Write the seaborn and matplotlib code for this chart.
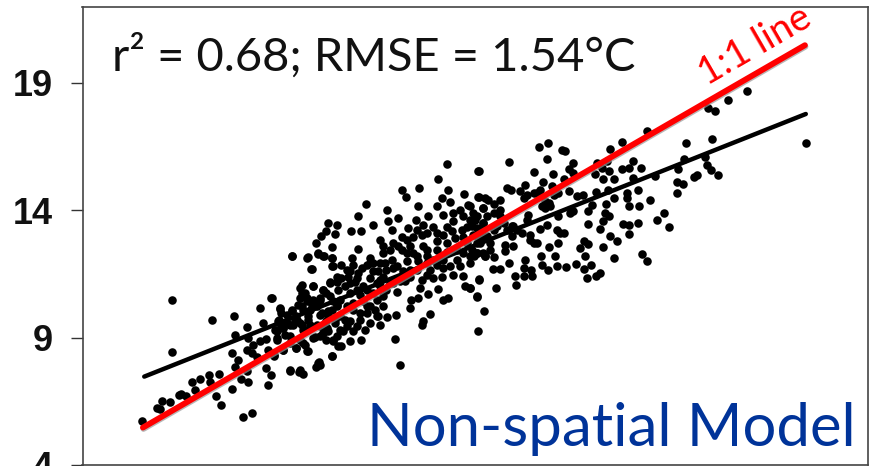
import matplotlib
matplotlib.use("Agg")
import matplotlib.pyplot as plt
import matplotlib.patheffects as pe
import pandas as pd
import seaborn as sns

obs_x = [
    5.46, 6.14, 6.14, 7.04, 7.53, 8.12, 8.38, 8.84, 9.21, 9.43, 9.57, 9.30, 7.82, 8.19, 7.56, 7.50, 7.63, 7.56, 7.82, 7.69,
    7.85, 7.50, 7.13, 7.23, 7.75, 7.95, 8.31, 8.38, 8.25, 7.19, 6.97, 7.00, 6.77, 6.58, 6.64, 6.34, 6.44, 6.28, 6.08, 5.91,
    5.78, 5.85, 7.82, 7.94, 8.05, 7.97, 8.12, 8.25, 7.86, 8.80, 9.01, 9.10, 9.40, 9.46, 9.49, 9.76, 8.31, 8.45, 8.65, 8.94,
    9.21, 9.14, 9.03, 9.37, 9.56, 9.79, 9.90, 8.50, 8.69, 8.50, 8.64, 8.55, 8.58, 8.84, 8.73, 8.88, 9.07, 9.22, 8.96, 9.07,
    9.30, 9.48, 9.67, 9.86, 9.41, 9.64, 9.83, 9.03, 9.33, 9.07, 9.56, 9.71, 9.86, 9.79, 9.75, 9.18, 9.48, 9.71,
    12.36, 13.07, 12.15, 11.34, 11.73, 11.43, 12.39, 12.75, 13.07, 10.52, 10.35, 9.67, 9.86, 10.69, 10.19, 10.41, 9.63, 9.82, 9.50, 9.40,
    9.76, 9.43, 9.56, 8.84, 9.20, 9.29, 9.76, 9.76, 9.97, 10.20, 10.35, 10.24, 10.35, 10.13, 10.28, 10.05, 9.71, 9.90, 9.56, 9.07,
    9.33, 9.14, 9.33, 8.99, 8.40, 8.58, 8.84, 8.61, 8.92, 8.54, 9.22, 9.52, 9.75, 9.26, 8.46, 8.65, 8.50, 8.80, 9.33, 8.65,
    8.95, 9.18, 8.44, 9.56, 9.79, 9.97, 10.16, 10.41, 9.76, 9.45, 8.80, 9.03, 11.18, 11.30, 11.83, 11.79, 11.99, 11.21, 11.00, 10.84,
    10.50, 10.81, 10.62, 10.39, 10.16, 9.94, 10.24, 11.54, 11.71, 11.53, 11.93, 12.28, 12.39, 12.15, 12.77, 12.89, 13.04, 13.21, 13.07, 13.08,
    12.73, 12.51, 12.28, 12.24, 12.05, 11.90, 11.75, 11.79, 11.22, 11.41, 10.92, 11.07, 10.77, 10.62, 10.92, 10.69, 10.92, 10.84, 11.11, 11.22,
    11.45, 10.96, 10.62, 10.81, 11.26, 11.15, 11.34, 11.11, 11.03, 11.01, 11.26, 11.49, 11.60, 11.52, 11.71, 11.66, 11.94, 11.83, 12.05, 11.79,
    11.90, 11.68, 12.13, 12.24, 12.43, 12.28, 12.51, 12.66, 12.85, 12.89, 12.47, 12.70, 12.28, 12.13, 12.36, 12.58, 12.89, 13.19, 13.30, 13.19,
    13.19, 13.04, 13.23, 12.81, 11.90, 12.13, 10.39, 10.24, 10.47, 9.86, 9.94, 8.80, 9.11, 9.67, 9.82, 10.05, 10.54, 10.77, 10.16, 10.09,
    10.43, 9.97, 10.62, 11.68, 11.52, 11.30,
    19.16, 18.73, 18.29, 18.43, 20.50, 18.37, 17.78, 16.89, 16.34, 16.07, 14.66, 14.46, 14.97, 15.04, 14.63, 13.77, 13.08, 14.33, 14.76, 15.22,
    15.12, 15.23, 15.76, 16.00, 15.88, 16.04, 15.71, 15.91, 16.16, 15.02, 14.53, 14.14, 13.72, 13.81, 14.02, 14.10, 14.33, 14.48, 14.74, 14.89,
    15.12, 15.31, 15.44, 15.75, 16.01, 16.34, 16.50, 16.59, 16.76, 16.59, 16.69, 16.44, 16.44, 16.16, 15.97, 15.65, 15.57, 16.50, 16.71, 16.97,
    17.09, 17.61, 17.73, 18.22, 18.26, 18.35, 18.50, 18.03, 17.97, 17.58, 17.71, 17.58, 17.29, 17.12, 17.39, 16.69, 16.50, 16.36, 16.50, 16.22,
    16.06, 15.91, 16.16, 16.79, 16.90, 15.95, 16.03, 15.91, 15.84, 15.57, 15.01, 14.86, 14.89, 14.67, 14.33, 14.25, 14.48, 14.63, 15.57, 15.46,
    15.38, 15.50, 15.63, 15.48, 15.84, 15.75, 15.54, 15.29, 15.07, 14.86, 14.82, 14.66, 14.49, 14.51, 14.14, 13.77, 14.27, 14.10, 13.91, 14.10,
    14.30, 13.94, 13.57, 13.40, 13.48, 13.08, 13.04, 12.89, 13.44, 13.23, 12.97, 13.87, 13.68, 13.67, 13.83, 13.83, 14.06, 13.65, 13.34, 13.12,
    13.42, 14.18, 14.21, 14.59, 14.70, 14.59, 14.89, 15.23, 13.23, 13.08, 13.42, 13.57, 13.57, 13.19, 13.42, 13.04, 13.19, 12.93, 13.12, 12.89,
    12.93,
    # dense core of the cloud
    8.50, 8.73, 9.03, 9.18, 9.48, 9.63, 9.94, 10.24, 10.09, 9.79, 9.48, 9.18, 9.03, 9.63, 9.86, 10.16, 10.32, 10.47, 10.16, 10.32,
    10.54, 10.69, 10.84, 10.99, 11.15, 10.84, 10.99, 10.69, 10.54, 10.84, 11.15, 11.37, 11.52, 11.71, 11.90, 12.05, 11.83, 12.13, 12.36, 12.54,
    12.73, 12.51, 12.96, 12.81, 13.04, 12.96, 12.73, 12.51, 12.36, 12.13, 11.90, 11.68, 11.45, 11.34, 11.07, 10.92, 11.60, 11.45, 12.28, 12.43,
    12.66, 12.89, 13.04, 10.62, 10.32, 10.01, 9.63, 9.48, 9.11, 8.80, 8.58, 10.09, 9.86, 10.73, 10.92, 10.54, 10.77, 10.39, 9.26, 9.41,
    9.11, 8.95, 9.67, 11.98, 12.20, 12.58, 12.73, 13.00, 13.27, 13.04, 13.27, 13.49, 13.72, 13.34, 13.04, 13.19, 13.95, 14.25, 14.40, 14.51,
    14.67, 14.17, 14.40, 14.78, 15.16, 14.93, 13.57, 13.87,
]
obs_y = [
    5.72, 10.49, 8.45, 9.70, 9.86, 10.15, 10.55, 12.20, 12.15, 12.32, 12.19, 11.69, 9.42, 9.59, 9.12, 8.38, 8.11, 7.85, 7.68, 7.38,
    7.26, 6.97, 6.69, 6.35, 5.90, 6.06, 7.14, 7.55, 7.82, 7.59, 7.53, 7.26, 7.38, 7.26, 6.96, 6.80, 6.69, 6.75, 6.46, 6.52,
    6.23, 6.18, 8.53, 8.40, 8.24, 8.72, 8.86, 8.96, 8.99, 7.70, 7.65, 7.59, 7.84, 8.06, 7.91, 8.28, 8.53, 8.27, 8.53, 8.58,
    8.46, 8.72, 8.92, 9.03, 9.18, 8.92, 8.66, 8.99, 9.12, 9.31, 9.38, 9.70, 10.12, 10.10, 9.90, 9.51, 9.51, 9.70, 9.70, 10.23,
    10.29, 9.90, 10.03, 10.29, 9.51, 9.38, 9.57, 10.95, 11.01, 10.75, 10.88, 11.14, 11.40, 11.80, 12.12, 10.55, 10.49, 10.62,
    15.83, 15.55, 15.21, 14.80, 14.87, 14.53, 14.80, 14.63, 14.54, 14.24, 13.78, 13.51, 13.44, 13.44, 13.17, 13.17, 13.17, 13.05, 12.98, 12.70,
    12.54, 12.30, 12.19, 12.19, 12.13, 11.69, 12.12, 11.80, 11.86, 12.12, 12.47, 11.86, 11.53, 11.40, 11.20, 11.01, 11.20, 10.88, 10.88, 11.08,
    11.01, 10.75, 10.49, 10.29, 10.55, 10.16, 10.03, 9.96, 9.64, 9.64, 9.83, 9.96, 10.10, 9.51, 9.31, 9.38, 8.92, 9.05, 8.98, 8.53,
    8.59, 8.46, 8.33, 9.18, 8.85, 8.66, 8.85, 8.90, 8.27, 8.00, 7.74, 7.74, 8.96, 7.93, 9.64, 9.51, 9.93, 9.87, 9.81, 9.51,
    9.31, 9.83, 10.23, 9.96, 9.64, 9.31, 9.25, 10.49, 10.55, 10.16, 10.72, 10.49, 10.55, 10.89, 11.01, 10.95, 10.61, 10.04, 9.25, 11.28,
    11.43, 11.47, 11.73, 11.40, 11.34, 11.47, 10.95, 11.27, 10.81, 11.21, 10.62, 11.14, 11.14, 11.34, 11.40, 11.93, 12.32, 12.84, 12.06, 11.80,
    11.99, 11.93, 12.12, 11.60, 12.58, 12.71, 12.97, 13.23, 13.56, 14.02, 13.69, 13.30, 12.97, 12.58, 14.15, 13.62, 13.76, 13.43, 13.36, 13.04,
    12.45, 12.19, 14.15, 14.47, 14.34, 13.82, 13.56, 14.02, 14.21, 13.62, 13.17, 13.23, 13.04, 12.45, 12.38, 12.06, 12.19, 14.08, 14.41, 13.50,
    12.97, 12.71, 12.19, 12.71, 11.93, 11.86, 10.68, 10.36, 10.42, 10.23, 10.49, 9.51, 9.31, 9.25, 9.70, 9.70, 9.96, 10.49, 11.14, 11.66,
    11.73, 11.34, 11.93, 11.66, 11.40, 11.21,
    18.69, 18.34, 18.01, 17.88, 16.64, 16.81, 16.64, 17.12, 16.70, 16.41, 16.64, 16.47, 16.36, 16.34, 16.01, 15.89, 15.55, 15.50, 15.43, 15.85,
    15.62, 15.46, 15.85, 15.92, 15.66, 15.56, 15.43, 15.22, 15.22, 15.22, 15.11, 14.99, 14.87, 14.81, 14.74, 14.48, 14.68, 14.78, 14.94, 14.68,
    14.74, 14.58, 14.61, 14.70, 14.81, 15.62, 15.66, 15.92, 15.67, 15.26, 14.81, 14.68, 14.48, 14.48, 14.26, 14.22, 13.96, 14.18, 14.18, 14.41,
    15.33, 15.62, 16.01, 16.11, 15.79, 15.59, 15.38, 15.37, 15.29, 15.11, 15.04, 14.68, 13.90, 13.62, 13.34, 13.50, 13.41, 13.46, 13.05, 12.78,
    12.98, 12.55, 12.14, 12.27, 12.02, 13.89, 13.76, 13.56, 13.28, 13.45, 13.11, 13.24, 12.71, 12.54, 12.71, 13.04, 13.28, 13.43, 12.68, 12.81,
    12.52, 12.19, 11.87, 11.70, 11.54, 11.41, 11.36, 11.89, 11.77, 11.80, 12.19, 11.64, 12.19, 11.87, 12.04, 11.92, 11.64, 11.73, 11.41, 11.41,
    11.41, 11.05, 11.69, 11.69, 10.95, 11.29, 10.62, 10.95, 12.17, 12.19, 12.19, 12.61, 12.65, 12.39, 12.98, 13.37, 13.11, 13.50, 12.72, 12.72,
    13.24, 13.63, 13.83, 14.09, 14.15, 14.35, 13.76, 13.96, 14.48, 14.54, 14.26, 14.41, 14.02, 14.09, 13.89, 13.76, 13.50, 13.37, 13.24, 14.15,
    12.45,
    # dense core of the cloud
    9.25, 9.57, 9.57, 9.31, 9.44, 9.64, 9.83, 10.10, 10.23, 10.42, 10.55, 10.42, 10.55, 10.75, 11.20, 10.75, 10.88, 11.01, 11.60, 11.34,
    10.88, 10.75, 11.01, 10.88, 11.14, 11.27, 11.66, 11.60, 11.86, 11.93, 11.73, 11.60, 11.66, 11.99, 12.19, 12.06, 12.58, 12.78, 12.71, 12.91,
    12.97, 12.45, 13.04, 13.36, 13.30, 13.89, 13.76, 13.89, 13.36, 13.10, 13.10, 13.23, 12.84, 12.45, 12.45, 12.58, 12.32, 12.32, 12.06, 11.80,
    11.80, 11.93, 12.32, 9.57, 9.44, 9.25, 8.92, 9.05, 8.79, 8.79, 9.57, 9.44, 9.05, 10.10, 10.23, 10.23, 9.83, 9.70, 10.10, 10.23,
    10.10, 9.83, 9.83, 11.66, 12.19, 12.45, 12.32, 13.63, 13.76, 12.98, 12.98, 13.37, 13.24, 12.45, 12.32, 12.32, 13.24, 12.85, 12.71, 14.15,
    14.28, 14.61, 14.68, 14.61, 13.89, 13.11, 13.76, 13.37,
]
fit_x = [5.50, 20.50]
fit_y = [7.47, 17.78]
one_x = [5.47, 20.48]
one_y = [5.47, 20.48]
y_ticks = [4, 9, 14, 19]

n = min(len(obs_x), len(obs_y))
df = pd.DataFrame({"x": obs_x[:n], "y": obs_y[:n]})

sns.set_theme(style="white")
plt.rcParams["font.family"] = ["Lato", "DejaVu Sans"]

fig = plt.figure(figsize=(8.69, 4.66), dpi=100)
ax = fig.add_axes([82.5 / 869, 1 / 466, (868 - 82.5) / 869, (465 - 6.5) / 466])

sns.scatterplot(data=df, x="x", y="y", color="black", s=38, linewidth=0, ax=ax, zorder=2)
sns.lineplot(x=fit_x, y=fit_y, color="black", linewidth=3.2, ax=ax, zorder=3)
sns.lineplot(x=one_x, y=one_y, color="#ff0000", linewidth=4.2, ax=ax, zorder=4,
             path_effects=[pe.SimpleLineShadow(offset=(0.4, -1), shadow_color="#999999", alpha=0.7), pe.Normal()])

ax.set_xlim(4.10, 21.91)
ax.set_ylim(4, 22)
ax.set_xticks([])
ax.set_yticks(y_ticks)
ax.set_xlabel("")
ax.set_ylabel("")
ax.tick_params(axis="y", left=True, length=8.6, width=1, color="#333333", pad=13)
for lab in ax.get_yticklabels():
    lab.set_fontfamily("Liberation Sans")
    lab.set_fontweight("bold")
    lab.set_fontsize(26)
    lab.set_color("#111111")
for s in ax.spines.values():
    s.set_color("#444444")
    s.set_linewidth(1.2)

ax.text(4.77, 19.47, "r² = 0.68; RMSE = 1.54°C", fontsize=33.9, color="#111111", ha="left", va="baseline")
ax.text(21.62, 4.76, "Non-spatial Model", fontsize=43.1, color="#003399", ha="right", va="baseline")
ax.text(19.35, 20.45, "1:1 line", fontsize=27.5, color="#ff0000", rotation=30, rotation_mode="anchor", ha="center", va="center")

fig.savefig("out.png", dpi=100)
print(len(obs_x), len(obs_y))
